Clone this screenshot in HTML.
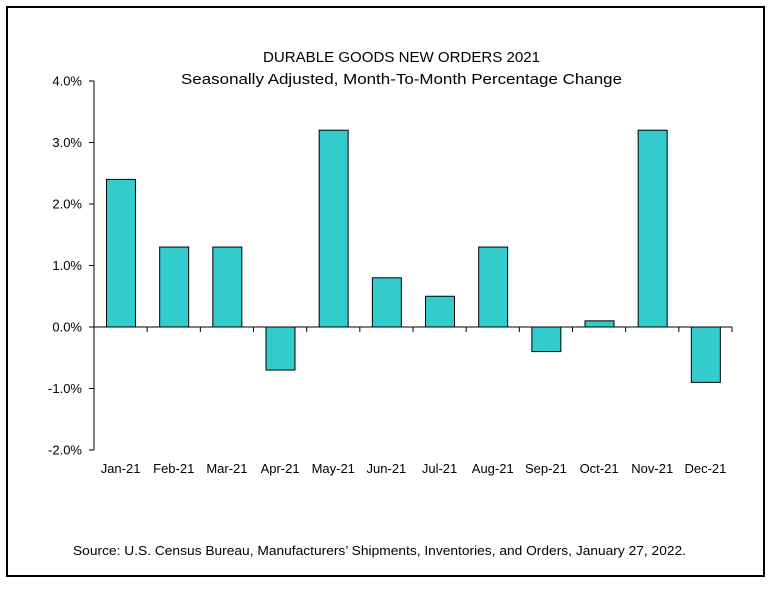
<!DOCTYPE html>
<html><head><meta charset="utf-8"><style>
body{margin:0;background:#fff;}
svg text{font-family:"Liberation Sans",sans-serif;fill:#000;}
</style></head><body>
<svg width="774" height="587">
<rect x="7" y="7" width="757" height="569" fill="none" stroke="#000" stroke-width="2"/>
<text x="263" y="62" textLength="277" lengthAdjust="spacingAndGlyphs" font-size="15">DURABLE GOODS NEW ORDERS 2021</text>
<text x="181" y="84" textLength="441" lengthAdjust="spacingAndGlyphs" font-size="15">Seasonally Adjusted,  Month-To-Month Percentage Change</text>
<g id="plot"></g>
<text x="73" y="555" textLength="613" lengthAdjust="spacingAndGlyphs" font-size="13">Source: U.S. Census Bureau, Manufacturers’ Shipments, Inventories, and Orders, January 27, 2022.</text>
</svg>
<script>
const categories=["Jan-21","Feb-21","Mar-21","Apr-21","May-21","Jun-21","Jul-21","Aug-21","Sep-21","Oct-21","Nov-21","Dec-21"];
const values=[2.4,1.3,1.3,-0.7,3.2,0.8,0.5,1.3,-0.4,0.1,3.2,-0.9];
const yTicks=[4,3,2,1,0,-1,-2];
const yTickLabels=["4.0%","3.0%","2.0%","1.0%","0.0%","-1.0%","-2.0%"];
const NS="http://www.w3.org/2000/svg";
const g=document.getElementById('plot');
const x0=94,x1=732,bw=(x1-x0)/categories.length;
const y=v=>327-v*61.5;
function mk(t,a){const e=document.createElementNS(NS,t);for(const k in a)e.setAttribute(k,a[k]);g.appendChild(e);return e;}
categories.forEach((c,i)=>{
 const v=values[i];
 const r=mk('rect',{x:x0+i*bw+12.5,y:Math.min(y(v),y(0)),width:29,height:Math.abs(y(v)-y(0)),fill:"#33CCCC",stroke:"#000","stroke-width":1});
 
 
 const t=mk('text',{x:x0+i*bw+bw/2,y:473,"text-anchor":"middle","font-size":"13"});
 t.textContent=c;
 
 
 const tk=mk('line',{x1:x0+(i+1)*bw,x2:x0+(i+1)*bw,y1:y(0),y2:y(0)+5,stroke:"#000"});
 
 
});
const ya=mk('line',{x1:x0,x2:x0,y1:y(4),y2:y(-2),stroke:"#000"});


const xa=mk('line',{x1:x0,x2:x1,y1:y(0),y2:y(0),stroke:"#000"});


yTicks.forEach((v,i)=>{
 const l=mk('line',{x1:x0-5,x2:x0,y1:y(v),y2:y(v),stroke:"#000"});
 
 
 const t=mk('text',{x:x0-12,y:y(v)+4.5,"text-anchor":"end","font-size":"13"});
 t.textContent=yTickLabels[i];
 
 
});
</script>
</body></html>
